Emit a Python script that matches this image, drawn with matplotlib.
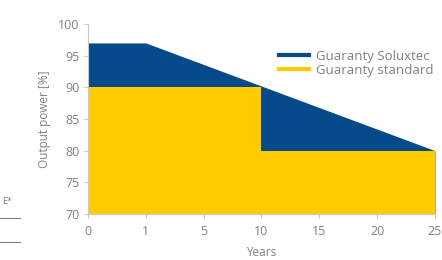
import matplotlib.pyplot as plt
from matplotlib.lines import Line2D

# years shown on an evenly spaced axis
years = ['0', '1', '5', '10', '15', '20', '25']
soluxtec = [97, 97, 93.6, 90.2, 86.8, 83.4, 80]
standard = [90, 90, 90, 90, 80, 80, 80]

blue = '#074a8c'
yellow = '#ffcc00'
grey = '#808080'

plt.rcParams['font.family'] = ['Open Sans', 'DejaVu Sans']

fig = plt.figure(figsize=(4.42, 2.6), dpi=100)
ax = fig.add_axes([0.199, 0.177, 0.785, 0.731])

x = list(range(len(years)))
ax.fill_between(x, 70, soluxtec, color=blue, lw=0)
ax.fill_between(x, 70, standard, step='pre', color=yellow, lw=0)

ax.set_xlim(0, len(years) - 1)
ax.set_ylim(70, 100)
ax.set_xticks(x)
ax.set_xticklabels(years)
ax.set_yticks(range(70, 101, 5))

for s in ['top', 'right']:
    ax.spines[s].set_visible(False)
for s in ['left', 'bottom']:
    ax.spines[s].set_color('#c8c8c8')
ax.tick_params(colors='#c8c8c8', labelcolor=grey, labelsize=9, length=3, pad=3)
ax.tick_params(axis='x', pad=5)
ax.set_xlabel('Years', color=grey, fontsize=8.5, labelpad=6)
ax.set_ylabel('Output power [%]', color=grey, fontsize=8.5, labelpad=5)

handles = [Line2D([], [], color=blue, lw=3), Line2D([], [], color=yellow, lw=3)]
ax.legend(handles, ['Guaranty Soluxtec', 'Guaranty standard'], loc='upper right',
          frameon=False, fontsize=9.5, labelcolor=grey, handlelength=2.3,
          handletextpad=0.5, labelspacing=0.1, borderpad=0,
          bbox_to_anchor=(1.014, 0.9))

# bits of the neighbouring figure cut off at the left edge
fig.text(0.005, 0.215, 'E*', color=grey, fontsize=6.5)
fig.add_artist(Line2D([0.0, 0.045], [0.162, 0.162], color=grey, lw=0.8))
fig.add_artist(Line2D([0.0, 0.045], [0.07, 0.07], color=grey, lw=0.8))

fig.savefig('out.png', dpi=100)
